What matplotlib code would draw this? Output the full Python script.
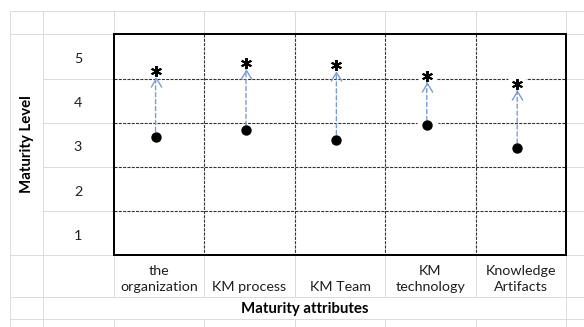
import numpy as np
import matplotlib
matplotlib.use("Agg")
import matplotlib.pyplot as plt
from matplotlib.path import Path
from matplotlib.transforms import ScaledTranslation

# ---- data -------------------------------------------------------------
attributes = ["the\norganization", "KM process", "KM Team", "KM\ntechnology", "Knowledge\nArtifacts"]
current_level = [3.18, 3.32, 3.11, 3.43, 2.92]
target_level = [4.66, 4.85, 4.79, 4.56, 4.38]
levels = [1, 2, 3, 4, 5]
x_title = "Maturity attributes"
y_title = "Maturity Level"

# ---- style ------------------------------------------------------------
plt.rcParams['font.family'] = ['Lato', 'DejaVu Sans']
plt.rcParams['lines.scale_dashes'] = False
FS = 10.3
FS_TITLE = 10.8
TXT = '#1e1e1e'
SHEET = '#dcdcdc'
BORDER = '#333333'
ARROW = '#7b9bd3'

W, H = 584, 327
fig = plt.figure(figsize=(W / 100, H / 100), dpi=100)

# worksheet cell edges in pixels
col_edges = [10, 43, 114, 204, 295, 385, 476, 566]
row_edges = [11, 34, 79, 123, 167, 211, 255, 297, 319]
box_l, box_r = col_edges[2], col_edges[-1]
box_t, box_b = row_edges[1], row_edges[6]

sheet = fig.add_axes([0, 0, 1, 1])
sheet.set_xlim(0, W)
sheet.set_ylim(H, 0)
sheet.axis('off')

px = 0.72  # one pixel in points


def hline(y, x0, x1, **kw):
    sheet.plot([x0, x1], [y, y], solid_capstyle='butt', **kw)


def vline(x, y0, y1, **kw):
    sheet.plot([x, x], [y0, y1], solid_capstyle='butt', **kw)


light = dict(color=SHEET, lw=px)
# light worksheet gridlines
for x in col_edges[:2]:
    vline(x, row_edges[0], H, **light)
for x in col_edges[2:-1]:
    vline(x, row_edges[0], box_t, **light)
    vline(x, box_b, row_edges[7], **light)
    vline(x, row_edges[8], H, **light)
vline(box_r, row_edges[0], box_t, **light)
vline(box_r, box_b, H, **light)

hline(row_edges[0], col_edges[0], W, **light)
hline(box_t, col_edges[0], box_l, **light)
hline(box_t, box_r, W, **light)
for y in row_edges[2:6]:
    hline(y, col_edges[1], box_l, **light)
    hline(y, box_r, W, **light)
hline(box_b, col_edges[0], box_l, **light)
hline(box_b, box_r, W, **light)
for y in row_edges[7:]:
    hline(y, col_edges[0], W, **light)

# dashed cell borders inside the framed block
dashed = dict(color=BORDER, lw=px * 1.1, linestyle=(0, (2.2, 0.9)))
for y in row_edges[2:6]:
    hline(y, box_l, box_r, **dashed)
for x in col_edges[3:-1]:
    vline(x, box_t, box_b, **dashed)

# cell texts
sheet.text((col_edges[0] + col_edges[1]) / 2, (box_t + box_b) / 2, y_title,
           rotation=90, ha='center', va='center', fontsize=FS_TITLE,
           fontweight='bold', color='black')
sheet.text((col_edges[1] + box_r) / 2, (row_edges[7] + row_edges[8]) / 2 + 0.5,
           x_title, ha='center', va='center', fontsize=FS_TITLE,
           fontweight='bold', color='black')
for i, lab in enumerate(attributes):
    cx = (col_edges[2 + i] + col_edges[3 + i]) / 2
    sheet.text(cx, row_edges[7] - 4, lab, ha='center', va='bottom',
               multialignment='center', linespacing=1.4,
               fontsize=FS, color=TXT)

# ---- chart overlay ----------------------------------------------------
ax = fig.add_axes([box_l / W, 1 - box_b / H, (box_r - box_l) / W, (box_b - box_t) / H])
ax.patch.set_alpha(0)
xs = np.arange(len(attributes))
ax.set_xlim(-0.46, len(attributes) - 0.46)
ax.set_ylim(0.5, 5.5)
ax.set_xticks([])
ax.set_yticks(levels)
ax.set_yticklabels([str(v) for v in levels])
ax.tick_params(axis='y', length=0, pad=(box_l - 78) * px, labelsize=FS,
               labelcolor=TXT)
label_shift = ScaledTranslation(0, -2 / 100, fig.dpi_scale_trans)
for t in ax.get_yticklabels():
    t.set_horizontalalignment('center')
    t.set_verticalalignment('center_baseline')
    t.set_transform(t.get_transform() + label_shift)
for sp in ax.spines.values():
    sp.set_linewidth(2 * px)
    sp.set_color('black')
    sp.set_zorder(10)

# white label backgrounds behind the markers
dot_bg = Path([(-2, -1), (2, -1), (2, 1), (-2, 1), (-2, -1)])
star_bg = Path([(-1.5, -1), (1.5, -1), (1.5, 1), (-1.5, 1), (-1.5, -1)])
ax.plot(xs, current_level, linestyle='none', marker=dot_bg, ms=21 * px,
        mfc='white', mec='none', zorder=2)
ax.plot(xs, target_level, linestyle='none', marker=star_bg, ms=18 * px,
        mfc='white', mec='none', zorder=2)

# dashed improvement arrows
shrink_tail, shrink_head = 5 * px, 7 * px
for x, c, t in zip(xs, current_level, target_level):
    ax.annotate('', xy=(x, t), xytext=(x, c),
                arrowprops=dict(arrowstyle='-', color=ARROW, lw=1.0,
                                linestyle=(0, (3, 2)),
                                shrinkA=shrink_tail, shrinkB=shrink_head),
                zorder=3)
chevron = Path([(-1.2, -2), (0, 0), (1.2, -2)],
               [Path.MOVETO, Path.LINETO, Path.LINETO])
head_tr = ax.transData + ScaledTranslation(0, -shrink_head / 72, fig.dpi_scale_trans)
ax.plot(xs, target_level, linestyle='none', marker=chevron, ms=18 * px,
        mfc='none', mec=ARROW, mew=1.0, transform=head_tr, zorder=3)

# current level (dot) and target level (asterisk)
ax.plot(xs, current_level, linestyle='none', marker='o', ms=9 * px,
        mfc='black', mec='black', zorder=5)
ax.plot(xs, target_level, linestyle='none', marker=(6, 2, 0), ms=11 * px,
        mec='black', mew=1.4, zorder=5)

fig.savefig('out.png', dpi=100)
